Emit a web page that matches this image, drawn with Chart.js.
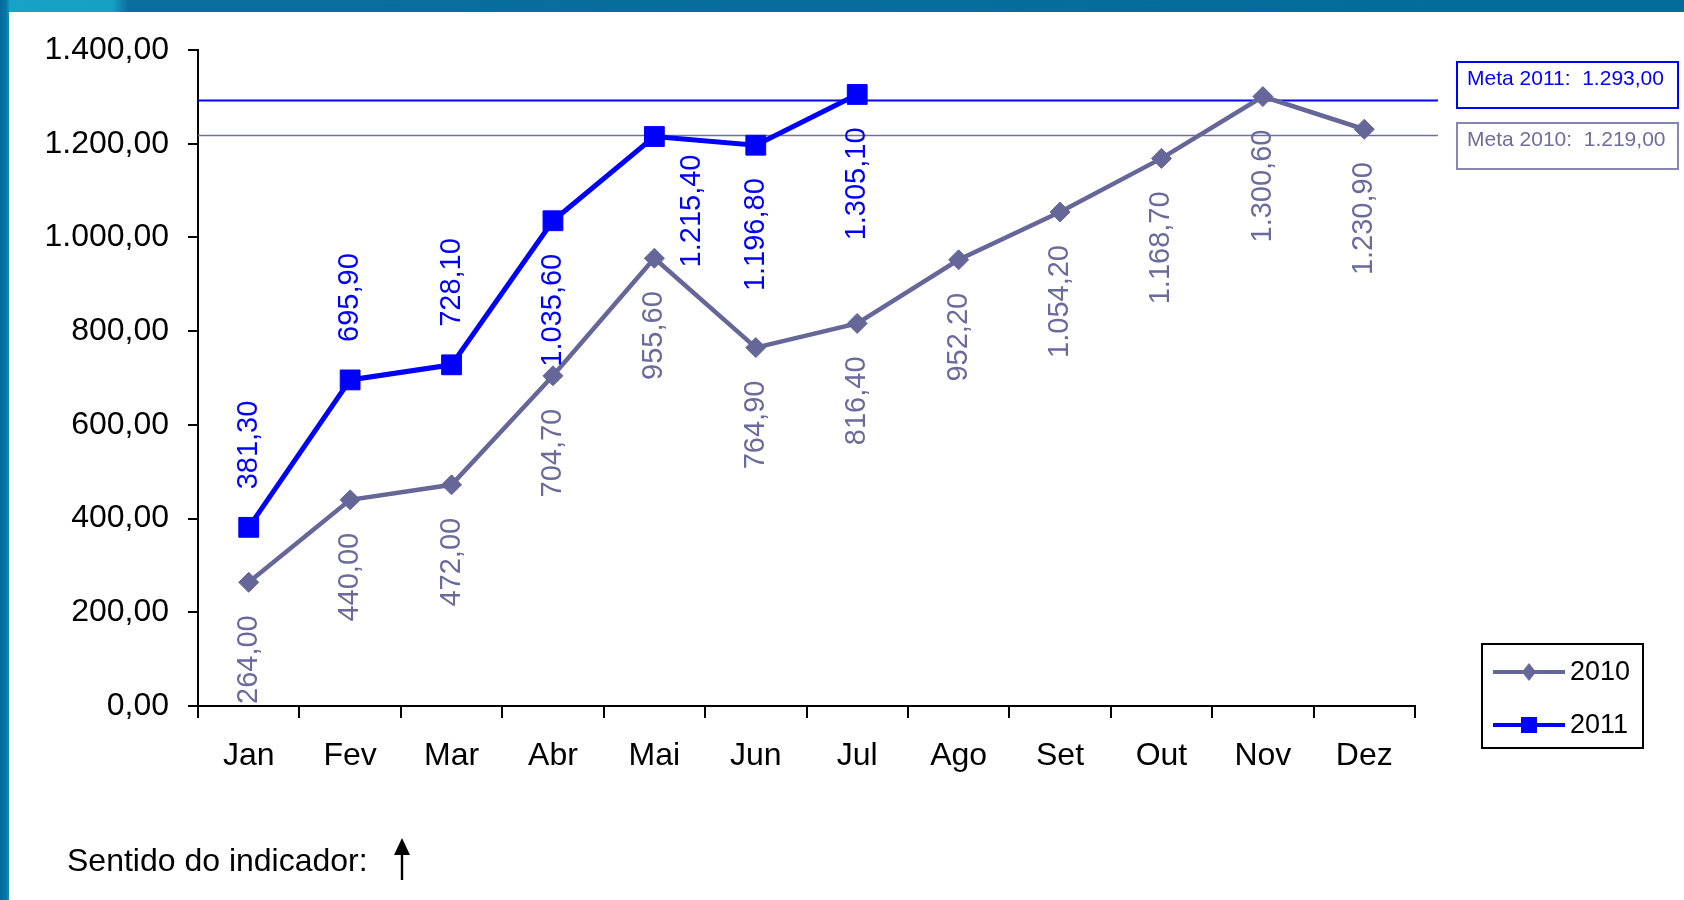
<!DOCTYPE html>
<html lang="pt-BR">
<head>
    <meta charset="UTF-8">
    <title>Indicador 2010 x 2011</title>
    <script src="https://cdn.jsdelivr.net/npm/chart.js"></script>
    <style>
        html, body { margin: 0; padding: 0; background: #fff; }
        #wrap { position: relative; width: 1684px; height: 900px; overflow: hidden; }
        #chart { position: absolute; left: 0; top: 0; }
        /* blue frame on top and left */
        .top-bar { position: absolute; left: 0; top: 0; width: 1684px; height: 12px;
                   background: linear-gradient(to right, #17a3c6 0, #16a0c4 112px, #0a6e9c 128px, #036c9b 100%); z-index: 2; }
        .left-bar { position: absolute; left: 0; top: 0; width: 9px; height: 900px;
                    background: linear-gradient(to right, #04689a 0, #0679a8 6px, #1593bd 9px); z-index: 2; }
        .sentido { position: absolute; left: 67px; top: 840px; font: 32px "Liberation Sans", Arial, sans-serif;
                   color: #000; line-height: 40px; white-space: nowrap; }
        .sentido svg { vertical-align: middle; margin-left: 24px; margin-top: -8px; }
    </style>
</head>
<body>
<div id="wrap">
    <div class="top-bar"></div>
    <div class="left-bar"></div>
    <canvas id="chart" width="1684" height="900"></canvas>
    <div class="sentido">Sentido do indicador:<svg width="20" height="42" viewBox="0 0 20 42">
        <polygon points="10,0 2,17 18,17" fill="#000"/>
        <rect x="8.8" y="12" width="2.4" height="30" fill="#000"/>
    </svg></div>
</div>

<script>
    // chart data
    const months = ['Jan', 'Fev', 'Mar', 'Abr', 'Mai', 'Jun', 'Jul', 'Ago', 'Set', 'Out', 'Nov', 'Dez'];
    const values2010 = [264.0, 440.0, 472.0, 704.7, 955.6, 764.9, 816.4, 952.2, 1054.2, 1168.7, 1300.6, 1230.9];
    const values2011 = [381.3, 695.9, 728.1, 1035.6, 1215.4, 1196.8, 1305.1];
    const meta2010 = 1219.0;
    const meta2011 = 1293.0;
    const yMin = 0, yMax = 1400, yStep = 200;

    // where each value label sits next to its point
    const labelPlace2010 = months.map(() => 'below');
    const labelPlace2011 = ['above', 'above', 'above', 'below', 'right', 'below', 'below'];

    const COLOR_2010 = '#666699';
    const COLOR_2011 = '#0000ff';
    const FONT = '"Liberation Sans", Arial, sans-serif';

    // 1400.5 -> "1.400,50"
    function fmt(v) {
        const parts = v.toFixed(2).split('.');
        const intPart = parts[0].replace(/\B(?=(\d{3})+(?!\d))/g, '.');
        return intPart + ',' + parts[1];
    }

    // Meta lines (drawn under the series)
    const metaLines = {
        id: 'metaLines',
        beforeDatasetsDraw(chart) {
            const ctx = chart.ctx, area = chart.chartArea, y = chart.scales.y;
            const endX = area.right + 23;
            [[meta2011, COLOR_2011, 2], [meta2010, '#7070a0', 1.5]].forEach(([v, c, w]) => {
                const py = Math.round(y.getPixelForValue(v)) + 0.5;
                ctx.save();
                ctx.strokeStyle = c;
                ctx.lineWidth = w;
                ctx.beginPath();
                ctx.moveTo(area.left, py);
                ctx.lineTo(endX, py);
                ctx.stroke();
                ctx.restore();
            });
        },
        afterDraw(chart) {
            const ctx = chart.ctx, area = chart.chartArea;
            const bx = area.right + 42, bw = 221, bh = 46;
            const boxes = [
                ['Meta 2011:  ' + fmt(meta2011), COLOR_2011, COLOR_2011, area.top + 12],
                ['Meta 2010:  ' + fmt(meta2010), '#6e6e9e', '#8686b0', area.top + 73]
            ];
            boxes.forEach(([txt, tc, bc, by]) => {
                ctx.save();
                ctx.strokeStyle = bc;
                ctx.lineWidth = 2;
                ctx.strokeRect(bx, by, bw, bh);
                ctx.fillStyle = tc;
                ctx.font = '21px ' + FONT;
                ctx.textBaseline = 'middle';
                ctx.textAlign = 'left';
                ctx.fillText(txt, bx + 10, by + 17);
                ctx.restore();
            });
        }
    };

    // rotated value labels
    const valueLabels = {
        id: 'valueLabels',
        afterDatasetsDraw(chart) {
            const ctx = chart.ctx;
            chart.data.datasets.forEach((ds, i) => {
                const meta = chart.getDatasetMeta(i);
                meta.data.forEach((pt, j) => {
                    const place = ds.labelPlace[j];
                    ctx.save();
                    ctx.font = '29px ' + FONT;
                    ctx.fillStyle = ds.labelColor;
                    ctx.textBaseline = 'middle';
                    if (place === 'above') {
                        ctx.translate(pt.x, pt.y - 38);
                        ctx.textAlign = 'left';
                    } else if (place === 'right') {
                        ctx.translate(pt.x + 38, pt.y + 18);
                        ctx.textAlign = 'right';
                    } else {
                        ctx.translate(pt.x, pt.y + 33);
                        ctx.textAlign = 'right';
                    }
                    ctx.rotate(-Math.PI / 2);
                    ctx.fillText(fmt(ds.data[j]), 0, 0);
                    ctx.restore();
                });
            });
        }
    };

    // boxed legend at the lower right
    const boxLegend = {
        id: 'boxLegend',
        afterDraw(chart) {
            const ctx = chart.ctx, area = chart.chartArea;
            const lx = area.right + 67, ly = 644, lw = 161, lh = 104;
            ctx.save();
            ctx.strokeStyle = '#000';
            ctx.lineWidth = 2;
            ctx.strokeRect(lx, ly, lw, lh);
            chart.data.datasets.forEach((ds, i) => {
                const cy = ly + 28 + i * 53;
                ctx.strokeStyle = ds.borderColor;
                ctx.lineWidth = 4;
                ctx.beginPath();
                ctx.moveTo(lx + 11, cy);
                ctx.lineTo(lx + 83, cy);
                ctx.stroke();
                ctx.fillStyle = ds.borderColor;
                const mx = lx + 47;
                if (ds.pointStyle === 'rectRot') {
                    ctx.beginPath();
                    ctx.moveTo(mx, cy - 9);
                    ctx.lineTo(mx + 7, cy);
                    ctx.lineTo(mx, cy + 9);
                    ctx.lineTo(mx - 7, cy);
                    ctx.closePath();
                    ctx.fill();
                } else {
                    ctx.fillRect(mx - 8, cy - 8, 16, 16);
                }
                ctx.fillStyle = '#000';
                ctx.font = '27px ' + FONT;
                ctx.textBaseline = 'middle';
                ctx.textAlign = 'left';
                ctx.fillText(ds.label, lx + 88, cy + 1);
            });
            ctx.restore();
        }
    };

    const ctx = document.getElementById('chart').getContext('2d');
    const chart = new Chart(ctx, {
        type: 'line',
        data: {
            labels: months,
            datasets: [{
                label: '2010',
                data: values2010,
                borderColor: COLOR_2010,
                backgroundColor: COLOR_2010,
                borderWidth: 4.5,
                pointStyle: 'rectRot',
                pointRadius: 10,
                pointBorderWidth: 1,
                tension: 0,
                labelColor: '#6a6a9c',
                labelPlace: labelPlace2010
            }, {
                label: '2011',
                data: values2011,
                borderColor: COLOR_2011,
                backgroundColor: COLOR_2011,
                borderWidth: 5,
                pointStyle: 'rect',
                pointRadius: 14,
                pointBorderWidth: 1,
                tension: 0,
                labelColor: COLOR_2011,
                labelPlace: labelPlace2011
            }]
        },
        options: {
            responsive: false,
            animation: false,
            layout: { padding: { left: 0, right: 269, top: 50, bottom: 0 } },
            plugins: {
                legend: { display: false },
                tooltip: { enabled: false }
            },
            scales: {
                x: {
                    offset: true,
                    grid: { offset: true, drawOnChartArea: false, drawTicks: true, tickLength: 12, color: '#000', lineWidth: 2 },
                    border: { display: true, color: '#000', width: 2 },
                    ticks: { color: '#000', font: { size: 32, family: FONT }, padding: 19, maxRotation: 0 },
                    afterFit(scale) { scale.height = 194; }
                },
                y: {
                    min: yMin,
                    max: yMax,
                    grid: { drawOnChartArea: false, drawTicks: true, tickLength: 10, color: '#000', lineWidth: 2 },
                    border: { display: true, color: '#000', width: 2 },
                    ticks: {
                        stepSize: yStep,
                        color: '#000',
                        font: { size: 32, family: FONT },
                        padding: 19,
                        callback: (v) => fmt(v)
                    },
                    afterFit(scale) { scale.width = 198; }
                }
            }
        },
        plugins: [metaLines, valueLabels, boxLegend]
    });
</script>
</body>
</html>
